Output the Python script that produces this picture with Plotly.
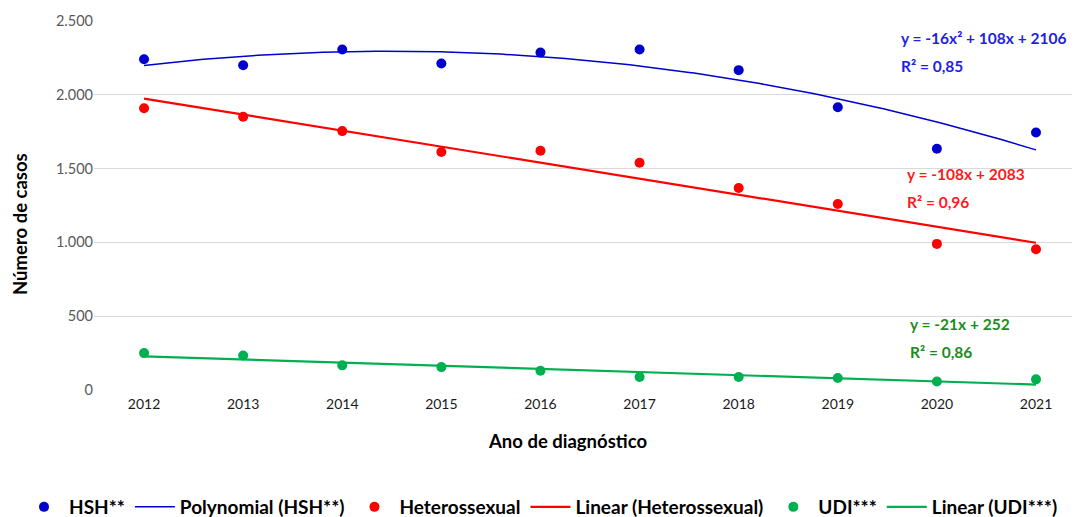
import numpy as np
import plotly.graph_objects as go

years = [2012, 2013, 2014, 2015, 2016, 2017, 2018, 2019, 2020, 2021]
hsh = [2241, 2200, 2307, 2212, 2286, 2307, 2167, 1916, 1634, 1745]
hetero = [1909, 1851, 1754, 1612, 1621, 1540, 1368, 1260, 990, 954]
udi = [250, 234, 167, 155, 130, 88, 88, 81, 58, 72]

y_ticks = [0, 500, 1000, 1500, 2000, 2500]
y_tick_text = ["0", "500", "1.000", "1.500", "2.000", "2.500"]

eq_hsh = ["y = -16x² + 108x + 2106", "R² = 0,85"]
eq_het = ["y = -108x + 2083", "R² = 0,96"]
eq_udi = ["y = -21x + 252", "R² = 0,86"]

BLUE = "#0000CC"
RED = "#FF0000"
GREEN = "#00B050"
FONT = "Lato"

idx = np.arange(1, len(years) + 1)
yrs = np.array(years, dtype=float)

# Trendlines fitted from the data (x = 1..n as in the spreadsheet)
p_hsh = np.polyfit(idx, hsh, 2)
fine_idx = np.linspace(1, len(years), 181)
fine_years = yrs[0] + (fine_idx - 1)
p_het = np.polyfit(idx, hetero, 1)
p_udi = np.polyfit(idx, udi, 1)

fig = go.Figure()
fig.add_trace(go.Scatter(x=years, y=hsh, mode="markers", name="HSH**",
                         marker=dict(color=BLUE, size=10)))
fig.add_trace(go.Scatter(x=fine_years, y=np.polyval(p_hsh, fine_idx), mode="lines",
                         name="Polynomial (HSH**)", line=dict(color=BLUE, width=1.5)))
fig.add_trace(go.Scatter(x=years, y=hetero, mode="markers", name="Heterossexual",
                         marker=dict(color=RED, size=10)))
fig.add_trace(go.Scatter(x=years, y=np.polyval(p_het, idx), mode="lines",
                         name="Linear (Heterossexual)", line=dict(color=RED, width=2.2)))
fig.add_trace(go.Scatter(x=years, y=udi, mode="markers", name="UDI***",
                         marker=dict(color=GREEN, size=10)))
fig.add_trace(go.Scatter(x=years, y=np.polyval(p_udi, idx), mode="lines",
                         name="Linear (UDI***)", line=dict(color=GREEN, width=2.2)))

OFF = 8  # page body margin
W, H = 1072, 509
L, R, T, B = 86, 0, 13, 127
pw = W - L - R
ph = H - T - B


def px_x(px):
    return (px - OFF - L) / pw


def px_y(py):
    return (H - B - (py - OFF)) / ph


annos = []
for lines, color, x0, ys in [
    (eq_hsh, "#1E1EE6", 899, (38, 66)),
    (eq_het, "#FF1A1A", 905, (174, 202)),
    (eq_udi, "#1A8C1A", 908, (324, 352)),
]:
    for text, yy in zip(lines, ys):
        annos.append(dict(text=text, x=px_x(x0), y=px_y(yy), xref="paper", yref="paper",
                          xanchor="left", yanchor="middle", showarrow=False,
                          font=dict(family=FONT, size=15.5, color=color, weight="bold")))

annos.append(dict(text="Ano de diagnóstico", x=px_x(567), y=px_y(441), xref="paper", yref="paper",
                  xanchor="center", yanchor="middle", showarrow=False,
                  font=dict(family=FONT, size=18.5, color="#000000", weight="bold")))
annos.append(dict(text="Número de casos", x=px_x(20), y=px_y(224), xref="paper", yref="paper",
                  xanchor="center", yanchor="middle", showarrow=False, textangle=-90,
                  font=dict(family=FONT, size=18.5, color="#000000", weight="bold")))

fig.update_layout(
    width=W, height=H,
    margin=dict(l=L, r=R, t=T, b=B, autoexpand=False),
    paper_bgcolor="white", plot_bgcolor="white",
    font=dict(family=FONT),
    annotations=annos,
    showlegend=True,
    legend=dict(orientation="h", xref="paper", yref="paper",
                x=px_x(19), xanchor="left", y=px_y(488), yanchor="top",
                bgcolor="rgba(0,0,0,0)",
                font=dict(family=FONT, size=19, color="#000000", weight="bold"),
                itemwidth=40, tracegroupgap=0, traceorder="normal"),
    xaxis=dict(range=[2011.495, 2021.444], tickmode="array", tickvals=years,
               ticktext=[str(y) for y in years], showgrid=False, zeroline=False,
               showline=False, ticks="", ticklabelstandoff=4,
               tickfont=dict(family=FONT, size=14, color="#1a1a1a")),
    yaxis=dict(range=[0, 2500], tickmode="array", tickvals=y_ticks, ticktext=y_tick_text,
               showgrid=True, gridcolor="#D9D9D9", gridwidth=1, zeroline=False,
               showline=False, ticks="",
               tickfont=dict(family=FONT, size=14.5, color="#595959")),
)

fig.write_html("out.html")
